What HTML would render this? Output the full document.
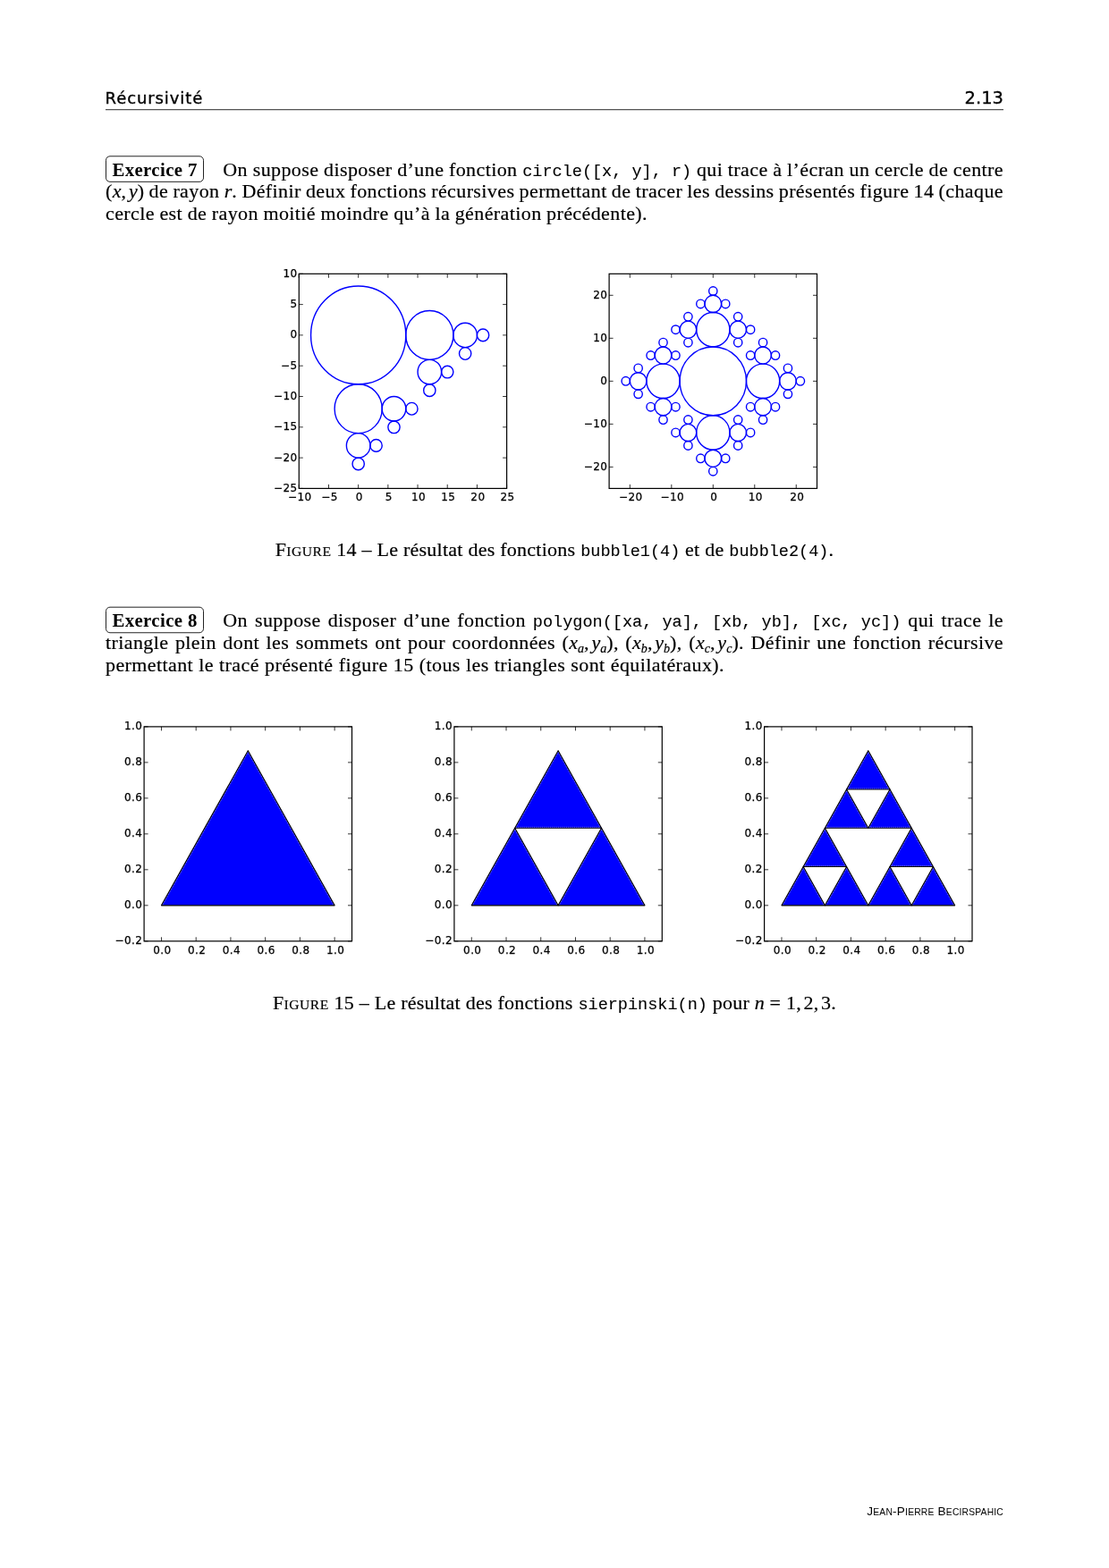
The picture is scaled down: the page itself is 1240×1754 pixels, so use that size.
<!DOCTYPE html>
<html lang="fr">
<head>
<meta charset="utf-8">
<title>Récursivité</title>
<style>
html,body{margin:0;padding:0;background:#fff;}
body{width:1240px;height:1754px;position:relative;overflow:hidden;color:#000;
  font-family:"Liberation Serif",serif;font-size:22px;letter-spacing:0.4px;-webkit-text-stroke:0.2px #000;}
.plots{position:absolute;left:0;top:0;}
.ln{position:absolute;left:118px;width:1004px;white-space:nowrap;line-height:24px;height:24px;}
.ln>span.w{display:inline-block;}
.tt{font-family:"Liberation Mono",monospace;font-size:18.55px;letter-spacing:0;word-spacing:0;-webkit-text-stroke:0.1px #000;}
.hd{position:absolute;font-family:"DejaVu Sans","Liberation Sans",sans-serif;font-size:18px;line-height:22px;letter-spacing:0.9px;-webkit-text-stroke:0.35px #000;}
.rule{position:absolute;left:118px;width:1004px;top:122px;height:1px;background:#2a2a2a;transform:translateY(0.2px);}
.box{display:inline-block;position:relative;font-weight:bold;box-sizing:border-box;word-spacing:0;-webkit-text-stroke:0;
  font-size:20.8px;height:30px;line-height:30px;padding:0 7px 0 7.4px;margin:-5px 21.5px -5px 0;letter-spacing:0.4px;}
.box::before{content:"";position:absolute;left:0;top:0;right:0;bottom:0;border:1px solid #222;border-radius:5px;transform-origin:50% 0;transform:translateY(var(--dy)) scaleY(0.985);}
.cap{position:absolute;left:0;width:1240px;text-align:center;white-space:nowrap;line-height:24px;letter-spacing:0.25px;}
.sc{font-size:0.71em;letter-spacing:0.5px;}
i{font-style:italic;letter-spacing:0;}
.ms{display:inline-block;width:2.5px;}
sub{font-size:0.64em;vertical-align:baseline;position:relative;top:0.25em;line-height:0;}
.ft{-webkit-text-stroke:0;position:absolute;right:118px;top:1683px;font-family:"Liberation Sans",sans-serif;font-size:13.6px;line-height:16px;white-space:nowrap;letter-spacing:0.2px;}
.ft span{font-size:10.3px;}
</style>
</head>
<body>
<div class="hd" style="left:117.6px;top:98.5px;">Récursivité</div>
<div class="hd" style="right:118px;top:98.7px;font-size:19.5px;letter-spacing:0;-webkit-text-stroke:0.3px #000;">2.13</div>
<div class="rule"></div>

<div class="ln j" id="j1" style="top:177.8px;word-spacing:-0.237px;"><span class="w"><span class="box" style="--dy:-0.7px">Exercice 7</span>On suppose disposer d’une fonction <span class="tt">circle([x,&nbsp;y],&nbsp;r)</span> qui trace à l’écran un cercle de centre</span></div>
<div class="ln j" id="j2" style="top:202px;word-spacing:-0.687px;"><span class="w">(<i>x</i>,<span class="ms"></span><i>y</i>) de rayon <i>r</i>. Définir deux fonctions récursives permettant de tracer les dessins présentés figure 14 (chaque</span></div>
<div class="ln" style="top:227px;word-spacing:-0.35px;"><span class="w">cercle est de rayon moitié moindre qu’à la génération précédente).</span></div>

<div class="cap" style="top:603px;">F<span class="sc">IGURE</span> 14 – Le résultat des fonctions <span class="tt">bubble1(4)</span> et de <span class="tt">bubble2(4)</span>.</div>

<div class="ln j" id="j3" style="top:682px;word-spacing:2.096px;"><span class="w"><span class="box" style="--dy:-0.3px">Exercice 8</span>On suppose disposer d’une fonction <span class="tt">polygon([xa,&nbsp;ya],&nbsp;[xb,&nbsp;yb],&nbsp;[xc,&nbsp;yc])</span> qui trace le</span></div>
<div class="ln j" id="j4" style="top:707px;word-spacing:1.585px;"><span class="w">triangle plein dont les sommets ont pour coordonnées (<i>x<sub>a</sub></i>,<span class="ms"></span><i>y<sub>a</sub></i>), (<i>x<sub>b</sub></i>,<span class="ms"></span><i>y<sub>b</sub></i>), (<i>x<sub>c</sub></i>,<span class="ms"></span><i>y<sub>c</sub></i>). Définir une fonction récursive</span></div>
<div class="ln" style="top:732px;word-spacing:0.28px;"><span class="w">permettant le tracé présenté figure 15 (tous les triangles sont équilatéraux).</span></div>

<div class="cap" style="top:1110px;">F<span class="sc">IGURE</span> 15 – Le résultat des fonctions <span class="tt">sierpinski(n)</span> pour <i>n</i> = 1,<span class="ms"></span>2,<span class="ms"></span>3.</div>

<div class="ft">J<span>EAN</span>-P<span>IERRE</span> B<span>ECIRSPAHIC</span></div>

<svg class="plots" width="1240" height="1754" viewBox="0 0 1240 1754" font-family="'DejaVu Sans', sans-serif" font-size="12" fill="#000" stroke="#000" stroke-width="0.25" style="letter-spacing:0.4px;word-spacing:0">
<g fill="none" stroke="#0000ff" stroke-width="1.4"><ellipse cx="400.67" cy="374.9" rx="53.1" ry="54.88"/><ellipse cx="480.32" cy="374.9" rx="26.55" ry="27.44"/><ellipse cx="520.14" cy="374.9" rx="13.27" ry="13.72"/><ellipse cx="540.05" cy="374.9" rx="6.64" ry="6.86"/><ellipse cx="520.14" cy="395.48" rx="6.64" ry="6.86"/><ellipse cx="480.32" cy="416.06" rx="13.27" ry="13.72"/><ellipse cx="500.23" cy="416.06" rx="6.64" ry="6.86"/><ellipse cx="480.32" cy="436.64" rx="6.64" ry="6.86"/><ellipse cx="400.67" cy="457.22" rx="26.55" ry="27.44"/><ellipse cx="440.49" cy="457.22" rx="13.27" ry="13.72"/><ellipse cx="460.41" cy="457.22" rx="6.64" ry="6.86"/><ellipse cx="440.49" cy="477.8" rx="6.64" ry="6.86"/><ellipse cx="400.67" cy="498.38" rx="13.27" ry="13.72"/><ellipse cx="420.58" cy="498.38" rx="6.64" ry="6.86"/><ellipse cx="400.67" cy="518.96" rx="6.64" ry="6.86"/></g>
<path d="M334.3 546.4v-4.5M334.3 306.3v4.5M367.49 546.4v-4.5M367.49 306.3v4.5M400.67 546.4v-4.5M400.67 306.3v4.5M433.86 546.4v-4.5M433.86 306.3v4.5M467.04 546.4v-4.5M467.04 306.3v4.5M500.23 546.4v-4.5M500.23 306.3v4.5M533.41 546.4v-4.5M533.41 306.3v4.5M566.6 546.4v-4.5M566.6 306.3v4.5M334.3 546.4h4.5M566.6 546.4h-4.5M334.3 512.1h4.5M566.6 512.1h-4.5M334.3 477.8h4.5M566.6 477.8h-4.5M334.3 443.5h4.5M566.6 443.5h-4.5M334.3 409.2h4.5M566.6 409.2h-4.5M334.3 374.9h4.5M566.6 374.9h-4.5M334.3 340.6h4.5M566.6 340.6h-4.5M334.3 306.3h4.5M566.6 306.3h-4.5" stroke="#000" stroke-width="0.8" fill="none"/>
<rect x="334.3" y="306.3" width="232.3" height="240.1" fill="none" stroke="#000" stroke-width="1.2"/>
<text x="335.3" y="560.1" text-anchor="middle">−10</text>
<text x="368.49" y="560.1" text-anchor="middle">−5</text>
<text x="401.67" y="560.1" text-anchor="middle">0</text>
<text x="434.86" y="560.1" text-anchor="middle">5</text>
<text x="468.04" y="560.1" text-anchor="middle">10</text>
<text x="501.23" y="560.1" text-anchor="middle">15</text>
<text x="534.41" y="560.1" text-anchor="middle">20</text>
<text x="567.6" y="560.1" text-anchor="middle">25</text>
<text x="332.5" y="549.9" text-anchor="end">−25</text>
<text x="332.5" y="515.6" text-anchor="end">−20</text>
<text x="332.5" y="481.3" text-anchor="end">−15</text>
<text x="332.5" y="447" text-anchor="end">−10</text>
<text x="332.5" y="412.7" text-anchor="end">−5</text>
<text x="332.5" y="378.4" text-anchor="end">0</text>
<text x="332.5" y="344.1" text-anchor="end">5</text>
<text x="332.5" y="309.8" text-anchor="end">10</text>
<g fill="none" stroke="#0000ff" stroke-width="1.4"><ellipse cx="797.3" cy="426.35" rx="37.18" ry="38.42"/><ellipse cx="853.08" cy="426.35" rx="18.59" ry="19.21"/><ellipse cx="880.96" cy="426.35" rx="9.3" ry="9.6"/><ellipse cx="894.91" cy="426.35" rx="4.65" ry="4.8"/><ellipse cx="880.96" cy="411.94" rx="4.65" ry="4.8"/><ellipse cx="880.96" cy="440.76" rx="4.65" ry="4.8"/><ellipse cx="853.08" cy="397.54" rx="9.3" ry="9.6"/><ellipse cx="867.02" cy="397.54" rx="4.65" ry="4.8"/><ellipse cx="839.13" cy="397.54" rx="4.65" ry="4.8"/><ellipse cx="853.08" cy="383.13" rx="4.65" ry="4.8"/><ellipse cx="853.08" cy="455.16" rx="9.3" ry="9.6"/><ellipse cx="867.02" cy="455.16" rx="4.65" ry="4.8"/><ellipse cx="839.13" cy="455.16" rx="4.65" ry="4.8"/><ellipse cx="853.08" cy="469.57" rx="4.65" ry="4.8"/><ellipse cx="741.52" cy="426.35" rx="18.59" ry="19.21"/><ellipse cx="713.64" cy="426.35" rx="9.3" ry="9.6"/><ellipse cx="699.69" cy="426.35" rx="4.65" ry="4.8"/><ellipse cx="713.64" cy="411.94" rx="4.65" ry="4.8"/><ellipse cx="713.64" cy="440.76" rx="4.65" ry="4.8"/><ellipse cx="741.52" cy="397.54" rx="9.3" ry="9.6"/><ellipse cx="755.47" cy="397.54" rx="4.65" ry="4.8"/><ellipse cx="727.58" cy="397.54" rx="4.65" ry="4.8"/><ellipse cx="741.52" cy="383.13" rx="4.65" ry="4.8"/><ellipse cx="741.52" cy="455.16" rx="9.3" ry="9.6"/><ellipse cx="755.47" cy="455.16" rx="4.65" ry="4.8"/><ellipse cx="727.58" cy="455.16" rx="4.65" ry="4.8"/><ellipse cx="741.52" cy="469.57" rx="4.65" ry="4.8"/><ellipse cx="797.3" cy="368.73" rx="18.59" ry="19.21"/><ellipse cx="825.19" cy="368.73" rx="9.3" ry="9.6"/><ellipse cx="839.13" cy="368.73" rx="4.65" ry="4.8"/><ellipse cx="825.19" cy="354.32" rx="4.65" ry="4.8"/><ellipse cx="825.19" cy="383.13" rx="4.65" ry="4.8"/><ellipse cx="769.41" cy="368.73" rx="9.3" ry="9.6"/><ellipse cx="755.47" cy="368.73" rx="4.65" ry="4.8"/><ellipse cx="769.41" cy="354.32" rx="4.65" ry="4.8"/><ellipse cx="769.41" cy="383.13" rx="4.65" ry="4.8"/><ellipse cx="797.3" cy="339.91" rx="9.3" ry="9.6"/><ellipse cx="811.24" cy="339.91" rx="4.65" ry="4.8"/><ellipse cx="783.36" cy="339.91" rx="4.65" ry="4.8"/><ellipse cx="797.3" cy="325.51" rx="4.65" ry="4.8"/><ellipse cx="797.3" cy="483.97" rx="18.59" ry="19.21"/><ellipse cx="825.19" cy="483.97" rx="9.3" ry="9.6"/><ellipse cx="839.13" cy="483.97" rx="4.65" ry="4.8"/><ellipse cx="825.19" cy="469.57" rx="4.65" ry="4.8"/><ellipse cx="825.19" cy="498.38" rx="4.65" ry="4.8"/><ellipse cx="769.41" cy="483.97" rx="9.3" ry="9.6"/><ellipse cx="755.47" cy="483.97" rx="4.65" ry="4.8"/><ellipse cx="769.41" cy="469.57" rx="4.65" ry="4.8"/><ellipse cx="769.41" cy="498.38" rx="4.65" ry="4.8"/><ellipse cx="797.3" cy="512.79" rx="9.3" ry="9.6"/><ellipse cx="811.24" cy="512.79" rx="4.65" ry="4.8"/><ellipse cx="783.36" cy="512.79" rx="4.65" ry="4.8"/><ellipse cx="797.3" cy="527.19" rx="4.65" ry="4.8"/></g>
<path d="M704.34 546.4v-4.5M704.34 306.3v4.5M750.82 546.4v-4.5M750.82 306.3v4.5M797.3 546.4v-4.5M797.3 306.3v4.5M843.78 546.4v-4.5M843.78 306.3v4.5M890.26 546.4v-4.5M890.26 306.3v4.5M681.1 522.39h4.5M913.5 522.39h-4.5M681.1 474.37h4.5M913.5 474.37h-4.5M681.1 426.35h4.5M913.5 426.35h-4.5M681.1 378.33h4.5M913.5 378.33h-4.5M681.1 330.31h4.5M913.5 330.31h-4.5" stroke="#000" stroke-width="0.8" fill="none"/>
<rect x="681.1" y="306.3" width="232.4" height="240.1" fill="none" stroke="#000" stroke-width="1.2"/>
<text x="705.34" y="560.1" text-anchor="middle">−20</text>
<text x="751.82" y="560.1" text-anchor="middle">−10</text>
<text x="798.3" y="560.1" text-anchor="middle">0</text>
<text x="844.78" y="560.1" text-anchor="middle">10</text>
<text x="891.26" y="560.1" text-anchor="middle">20</text>
<text x="679.3" y="525.89" text-anchor="end">−20</text>
<text x="679.3" y="477.87" text-anchor="end">−10</text>
<text x="679.3" y="429.85" text-anchor="end">0</text>
<text x="679.3" y="381.83" text-anchor="end">10</text>
<text x="679.3" y="333.81" text-anchor="end">20</text>
<g fill="#0000ff" stroke="#000" stroke-width="1.15" stroke-linejoin="round"><polygon points="180.47,1012.82 374.13,1012.82 277.3,839.68"/></g><path d="M372.6 1011.92L277.3 841.53M277.3 841.53L182 1011.92" fill="none" stroke="#fff" stroke-opacity="0.8" stroke-width="0.55" stroke-dasharray="1 0.8"/>
<path d="M180.47 1052.8v-4.5M180.47 812.9v4.5M219.2 1052.8v-4.5M219.2 812.9v4.5M257.93 1052.8v-4.5M257.93 812.9v4.5M296.67 1052.8v-4.5M296.67 812.9v4.5M335.4 1052.8v-4.5M335.4 812.9v4.5M374.13 1052.8v-4.5M374.13 812.9v4.5M161.1 1052.8h4.5M393.5 1052.8h-4.5M161.1 1012.82h4.5M393.5 1012.82h-4.5M161.1 972.83h4.5M393.5 972.83h-4.5M161.1 932.85h4.5M393.5 932.85h-4.5M161.1 892.87h4.5M393.5 892.87h-4.5M161.1 852.88h4.5M393.5 852.88h-4.5M161.1 812.9h4.5M393.5 812.9h-4.5" stroke="#000" stroke-width="0.8" fill="none"/>
<rect x="161.1" y="812.9" width="232.4" height="239.9" fill="none" stroke="#000" stroke-width="1.2"/>
<text x="181.47" y="1066.5" text-anchor="middle">0.0</text>
<text x="220.2" y="1066.5" text-anchor="middle">0.2</text>
<text x="258.93" y="1066.5" text-anchor="middle">0.4</text>
<text x="297.67" y="1066.5" text-anchor="middle">0.6</text>
<text x="336.4" y="1066.5" text-anchor="middle">0.8</text>
<text x="375.13" y="1066.5" text-anchor="middle">1.0</text>
<text x="159.3" y="1056.3" text-anchor="end">−0.2</text>
<text x="159.3" y="1016.32" text-anchor="end">0.0</text>
<text x="159.3" y="976.33" text-anchor="end">0.2</text>
<text x="159.3" y="936.35" text-anchor="end">0.4</text>
<text x="159.3" y="896.37" text-anchor="end">0.6</text>
<text x="159.3" y="856.38" text-anchor="end">0.8</text>
<text x="159.3" y="816.4" text-anchor="end">1.0</text>
<g fill="#0000ff" stroke="#000" stroke-width="1.15" stroke-linejoin="round"><polygon points="527.27,1012.82 624.1,1012.82 575.68,926.25"/><polygon points="624.1,1012.82 720.93,1012.82 672.52,926.25"/><polygon points="575.68,926.25 672.52,926.25 624.1,839.68"/></g><path d="M622.57 1011.92L575.68 928.09M575.68 928.09L528.8 1011.92M719.4 1011.92L672.52 928.09M672.52 928.09L625.63 1011.92M577.22 925.35L670.98 925.35M670.98 925.35L624.1 841.53M624.1 841.53L577.22 925.35" fill="none" stroke="#fff" stroke-opacity="0.8" stroke-width="0.55" stroke-dasharray="1 0.8"/>
<path d="M527.27 1052.8v-4.5M527.27 812.9v4.5M566 1052.8v-4.5M566 812.9v4.5M604.73 1052.8v-4.5M604.73 812.9v4.5M643.47 1052.8v-4.5M643.47 812.9v4.5M682.2 1052.8v-4.5M682.2 812.9v4.5M720.93 1052.8v-4.5M720.93 812.9v4.5M507.9 1052.8h4.5M740.3 1052.8h-4.5M507.9 1012.82h4.5M740.3 1012.82h-4.5M507.9 972.83h4.5M740.3 972.83h-4.5M507.9 932.85h4.5M740.3 932.85h-4.5M507.9 892.87h4.5M740.3 892.87h-4.5M507.9 852.88h4.5M740.3 852.88h-4.5M507.9 812.9h4.5M740.3 812.9h-4.5" stroke="#000" stroke-width="0.8" fill="none"/>
<rect x="507.9" y="812.9" width="232.4" height="239.9" fill="none" stroke="#000" stroke-width="1.2"/>
<text x="528.27" y="1066.5" text-anchor="middle">0.0</text>
<text x="567" y="1066.5" text-anchor="middle">0.2</text>
<text x="605.73" y="1066.5" text-anchor="middle">0.4</text>
<text x="644.47" y="1066.5" text-anchor="middle">0.6</text>
<text x="683.2" y="1066.5" text-anchor="middle">0.8</text>
<text x="721.93" y="1066.5" text-anchor="middle">1.0</text>
<text x="506.1" y="1056.3" text-anchor="end">−0.2</text>
<text x="506.1" y="1016.32" text-anchor="end">0.0</text>
<text x="506.1" y="976.33" text-anchor="end">0.2</text>
<text x="506.1" y="936.35" text-anchor="end">0.4</text>
<text x="506.1" y="896.37" text-anchor="end">0.6</text>
<text x="506.1" y="856.38" text-anchor="end">0.8</text>
<text x="506.1" y="816.4" text-anchor="end">1.0</text>
<g fill="#0000ff" stroke="#000" stroke-width="1.15" stroke-linejoin="round"><polygon points="873.97,1012.82 922.38,1012.82 898.17,969.53"/><polygon points="922.38,1012.82 970.8,1012.82 946.59,969.53"/><polygon points="898.17,969.53 946.59,969.53 922.38,926.25"/><polygon points="970.8,1012.82 1019.22,1012.82 995.01,969.53"/><polygon points="1019.22,1012.82 1067.63,1012.82 1043.42,969.53"/><polygon points="995.01,969.53 1043.42,969.53 1019.22,926.25"/><polygon points="922.38,926.25 970.8,926.25 946.59,882.97"/><polygon points="970.8,926.25 1019.22,926.25 995.01,882.97"/><polygon points="946.59,882.97 995.01,882.97 970.8,839.68"/></g><path d="M920.85 1011.92L898.17 971.38M898.17 971.38L875.5 1011.92M969.27 1011.92L946.59 971.38M946.59 971.38L923.92 1011.92M899.71 968.63L945.06 968.63M945.06 968.63L922.38 928.09M922.38 928.09L899.71 968.63M1017.68 1011.92L995.01 971.38M995.01 971.38L972.33 1011.92M1066.1 1011.92L1043.42 971.38M1043.42 971.38L1020.75 1011.92M996.54 968.63L1041.89 968.63M1041.89 968.63L1019.22 928.09M1019.22 928.09L996.54 968.63M923.92 925.35L969.27 925.35M969.27 925.35L946.59 884.81M946.59 884.81L923.92 925.35M972.33 925.35L1017.68 925.35M1017.68 925.35L995.01 884.81M995.01 884.81L972.33 925.35M948.13 882.07L993.47 882.07M993.47 882.07L970.8 841.53M970.8 841.53L948.13 882.07" fill="none" stroke="#fff" stroke-opacity="0.8" stroke-width="0.55" stroke-dasharray="1 0.8"/>
<path d="M873.97 1052.8v-4.5M873.97 812.9v4.5M912.7 1052.8v-4.5M912.7 812.9v4.5M951.43 1052.8v-4.5M951.43 812.9v4.5M990.17 1052.8v-4.5M990.17 812.9v4.5M1028.9 1052.8v-4.5M1028.9 812.9v4.5M1067.63 1052.8v-4.5M1067.63 812.9v4.5M854.6 1052.8h4.5M1087 1052.8h-4.5M854.6 1012.82h4.5M1087 1012.82h-4.5M854.6 972.83h4.5M1087 972.83h-4.5M854.6 932.85h4.5M1087 932.85h-4.5M854.6 892.87h4.5M1087 892.87h-4.5M854.6 852.88h4.5M1087 852.88h-4.5M854.6 812.9h4.5M1087 812.9h-4.5" stroke="#000" stroke-width="0.8" fill="none"/>
<rect x="854.6" y="812.9" width="232.4" height="239.9" fill="none" stroke="#000" stroke-width="1.2"/>
<text x="874.97" y="1066.5" text-anchor="middle">0.0</text>
<text x="913.7" y="1066.5" text-anchor="middle">0.2</text>
<text x="952.43" y="1066.5" text-anchor="middle">0.4</text>
<text x="991.17" y="1066.5" text-anchor="middle">0.6</text>
<text x="1029.9" y="1066.5" text-anchor="middle">0.8</text>
<text x="1068.63" y="1066.5" text-anchor="middle">1.0</text>
<text x="852.8" y="1056.3" text-anchor="end">−0.2</text>
<text x="852.8" y="1016.32" text-anchor="end">0.0</text>
<text x="852.8" y="976.33" text-anchor="end">0.2</text>
<text x="852.8" y="936.35" text-anchor="end">0.4</text>
<text x="852.8" y="896.37" text-anchor="end">0.6</text>
<text x="852.8" y="856.38" text-anchor="end">0.8</text>
<text x="852.8" y="816.4" text-anchor="end">1.0</text>
</svg>
</body>
</html>
